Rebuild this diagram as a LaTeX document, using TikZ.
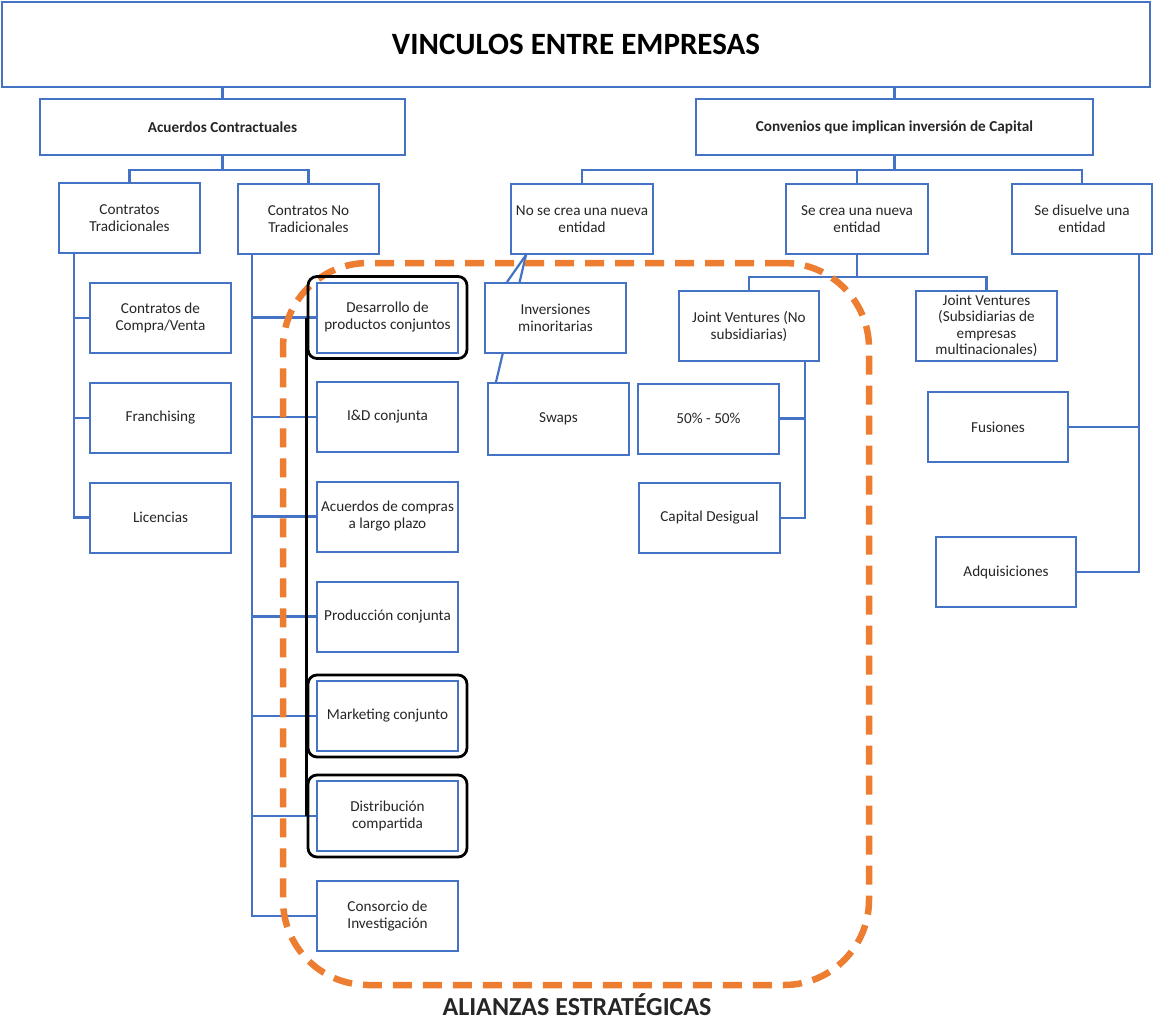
\documentclass[tikz,border=0pt]{standalone}
\usepackage{fontspec}
\setmainfont{Carlito}
\usetikzlibrary{fit,backgrounds}
\definecolor{boxblue}{HTML}{4472C4}
\definecolor{allyorange}{HTML}{ED7D31}
\begin{document}
\begin{tikzpicture}[x=1pt,y=-1pt,
  box/.style={draw=boxblue, line width=2pt, fill=white, align=center,
    font=\fontsize{15.2}{17}\selectfont, text=black!85,
    minimum width=141pt, minimum height=70pt, inner sep=1pt},
  head/.style={box, font=\bfseries\fontsize{15.2}{17}\selectfont, minimum height=56pt},
  link/.style={draw=boxblue, line width=2.2pt},
  hlbox/.style={draw=black, line width=2.8pt, rounded corners=9pt,
    inner xsep=8pt, inner ysep=5pt},
  hlline/.style={draw=black, line width=2.8pt},
  ally/.style={draw=allyorange, line width=6.5pt, dash pattern=on 19pt off 11pt,
    rounded corners=85pt}]
\useasboundingbox (0,0) rectangle (1154,1021);

% title and first level
\node[box, minimum width=1148pt, minimum height=85pt,
  font=\bfseries\fontsize{31}{34}\selectfont, text=black] (top) at (576,44.5) {VINCULOS ENTRE EMPRESAS};
\node[head, minimum width=365pt] (acu) at (222.5,127) {Acuerdos Contractuales};
\node[head, minimum width=397pt] (conv) at (894.5,127) {Convenios que implican inversión de Capital};

% contractual agreements
\node[box] (ctrad) at (129.5,218) {Contratos\\Tradicionales};
\node[box] (cnotrad) at (308.5,219) {Contratos No\\Tradicionales};
\node[box] (compra) at (160.5,318) {Contratos de\\Compra/Venta};
\node[box] (fran) at (160.5,418) {Franchising};
\node[box] (lic) at (160.5,517.5) {Licencias};
\node[box] (des) at (387.5,317.5) {Desarrollo de\\productos conjuntos};
\node[box] (iyd) at (387.5,417) {I\&D conjunta};
\node[box] (acomp) at (387.5,516.5) {Acuerdos de compras\\a largo plazo};
\node[box] (prod) at (387.5,616.5) {Producción conjunta};
\node[box] (mkt) at (387.5,716) {Marketing conjunto};
\node[box] (dist) at (387.5,816) {Distribución\\compartida};
\node[box] (cons) at (387.5,916) {Consorcio de\\Investigación};

% capital investment agreements
\node[box, minimum width=142pt] (nocrea) at (582,219) {No se crea una nueva\\entidad};
\node[box, minimum width=142pt] (crea) at (857,219) {Se crea una nueva\\entidad};
\node[box, minimum width=140pt] (disu) at (1082,219) {Se disuelve una\\entidad};
\node[box] (inv) at (555.5,318) {Inversiones\\minoritarias};
\node[box, minimum height=72pt] (swaps) at (558.5,419) {Swaps};
\node[box, minimum width=140pt] (jvno) at (749,326) {Joint Ventures (No\\subsidiarias)};
\node[box, font=\fontsize{15.2}{16.5}\selectfont] (jvsub) at (986.5,326) {Joint Ventures\\(Subsidiarias de\\empresas\\multinacionales)};
\node[box] (c50) at (708.5,418.5) {50\% - 50\%};
\node[box] (capd) at (709.5,518) {Capital Desigual};
\node[box, minimum width=140pt] (fus) at (998,427) {Fusiones};
\node[box, minimum width=140pt] (adq) at (1006,572) {Adquisiciones};

% connectors behind the boxes
\begin{pgfonlayer}{background}
  \coordinate (busA) at (0,170);
  \coordinate (busC) at (0,277);
  \coordinate (trA) at (74,0);
  \coordinate (trB) at (252,0);
  \coordinate (trC) at (805,0);
  \coordinate (trD) at (1139,0);
  \draw[link] (acu.north) -- (acu.north |- top.south);
  \draw[link] (conv.north) -- (conv.north |- top.south);
  \draw[link] (acu.south) -- (acu.south |- busA);
  \draw[link] (ctrad.north) -- (ctrad.north |- busA) -- (cnotrad.north |- busA) -- (cnotrad.north);
  \draw[link] (trA |- ctrad.south) |- (lic.west);
  \foreach \n in {compra,fran} \draw[link] (trA |- \n.west) -- (\n.west);
  \draw[link] (trB |- cnotrad.south) |- (cons.west);
  \foreach \n in {des,iyd,acomp,prod,mkt,dist} \draw[link] (trB |- \n.west) -- (\n.west);
  \draw[link] (conv.south) -- (conv.south |- busA);
  \draw[link] (nocrea.north) -- (nocrea.north |- busA) -- (disu.north |- busA) -- (disu.north);
  \draw[link] (crea.north) -- (crea.north |- busA);
  \coordinate (ns) at ([xshift=16pt]nocrea.south west);
  \draw[link] (ns) -- ([xshift=23pt]inv.north west);
  \draw[link] (ns) -- ([xshift=9pt]swaps.north west);
  \draw[link] (crea.south) -- (crea.south |- busC);
  \draw[link] (jvno.north) -- (jvno.north |- busC) -- (jvsub.north |- busC) -- (jvsub.north);
  \draw[link] (trC |- jvno.south) |- (capd.east);
  \draw[link] (trC |- c50.east) -- (c50.east);
  \draw[link] (trD |- disu.south) |- (adq.east);
  \draw[link] (trD |- fus.east) -- (fus.east);
\end{pgfonlayer}

% strategic alliances
\node[ally, minimum width=586pt, minimum height=722pt] (allyframe) at (576,624) {};
\node[font=\bfseries\fontsize{26}{30}\selectfont, text=black!85] (allylabel) at (577,1005) {ALIANZAS ESTRATÉGICAS};

% highlighted alliances
\node[hlbox, fit=(des)] (hldes) {};
\node[hlbox, fit=(mkt)] (hlmkt) {};
\node[hlbox, fit=(dist)] (hldist) {};
\draw[hlline] (hldes.west) -- (hldist.west);
\end{tikzpicture}
\end{document}
